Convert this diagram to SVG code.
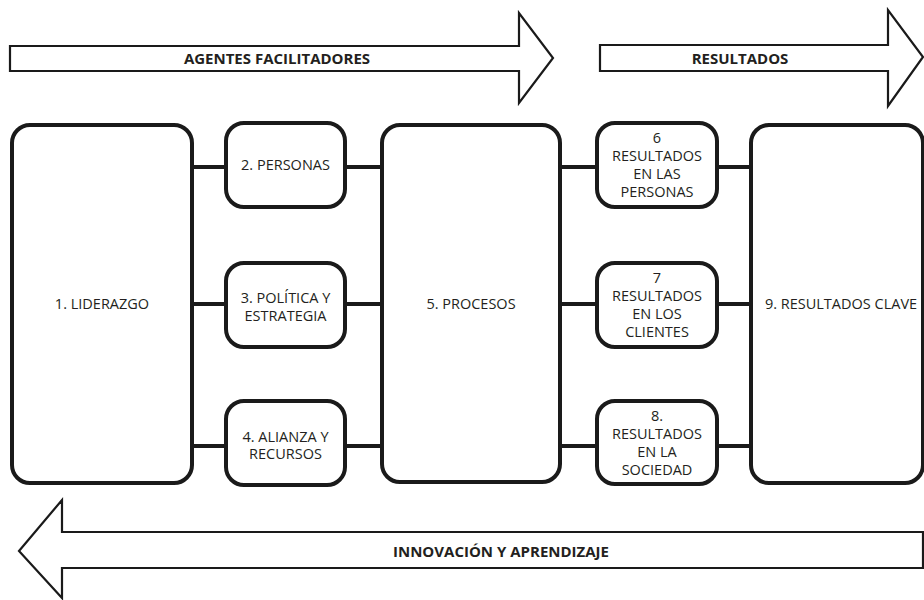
<svg xmlns="http://www.w3.org/2000/svg" width="924" height="600" viewBox="0 0 924 600">
<style>
.bg{fill:#fff}
.arrow{fill:#fff;stroke:#1a1a1a;stroke-width:2.2;stroke-linejoin:miter}
.box{fill:#fff;stroke:#1a1a1a;stroke-width:4}
.conn{stroke:#1a1a1a;stroke-width:4;fill:none}
.t{font-family:"Open Sans","Liberation Sans",sans-serif;font-size:14.5px;fill:#231f20;text-anchor:middle}
.b{font-family:"Open Sans","Liberation Sans",sans-serif;font-size:15px;font-weight:bold;fill:#231f20;text-anchor:middle}
</style>
<rect class="bg" x="0" y="0" width="924" height="600"/>
<g id="arrow-agentes">
<polygon class="arrow" points="10,46 519,46 519,13 553,58 519,103 519,71 10,71"/>
<text class="b" x="277" y="63.5">AGENTES FACILITADORES</text>
</g>
<g id="arrow-resultados">
<polygon class="arrow" points="600,45 888,45 888,10 923,57 888,106 888,71 600,71"/>
<text class="b" x="740" y="63.5">RESULTADOS</text>
</g>
<g id="arrow-innovacion">
<polygon class="arrow" points="923,532 62,532 62,500 19,551 62,598 62,568 923,568"/>
<text class="b" x="501" y="556.5">INNOVACIÓN Y APRENDIZAJE</text>
</g>
<g id="connectors">
<line class="conn" x1="192" y1="167" x2="226" y2="167"/>
<line class="conn" x1="192" y1="304" x2="226" y2="304"/>
<line class="conn" x1="192" y1="446" x2="226" y2="446"/>
<line class="conn" x1="345" y1="167" x2="382" y2="167"/>
<line class="conn" x1="345" y1="304" x2="382" y2="304"/>
<line class="conn" x1="345" y1="446" x2="382" y2="446"/>
<line class="conn" x1="560" y1="167" x2="597" y2="167"/>
<line class="conn" x1="560" y1="304" x2="597" y2="304"/>
<line class="conn" x1="560" y1="446" x2="597" y2="446"/>
<line class="conn" x1="717" y1="167" x2="751" y2="167"/>
<line class="conn" x1="717" y1="304" x2="751" y2="304"/>
<line class="conn" x1="717" y1="446" x2="751" y2="446"/>
</g>
<g id="n1">
<rect class="box" x="12" y="125" width="180" height="358" rx="18"/>
<text class="t" x="102" y="309">1. LIDERAZGO</text>
</g>
<g id="n2">
<rect class="box" x="226" y="123" width="119" height="84" rx="18"/>
<text class="t" x="285.5" y="170">2. PERSONAS</text>
</g>
<g id="n3">
<rect class="box" x="226" y="263" width="119" height="84" rx="18"/>
<text class="t" x="285.5" y="303">3. POLÍTICA Y</text>
<text class="t" x="285.5" y="320.5">ESTRATEGIA</text>
</g>
<g id="n4">
<rect class="box" x="226" y="401" width="119" height="84" rx="18"/>
<text class="t" x="285.5" y="441.5">4. ALIANZA Y</text>
<text class="t" x="285.5" y="459">RECURSOS</text>
</g>
<g id="n5">
<rect class="box" x="382" y="125" width="178" height="357" rx="18"/>
<text class="t" x="471" y="309">5. PROCESOS</text>
</g>
<g id="n6">
<rect class="box" x="597" y="123" width="120" height="84" rx="18"/>
<text class="t" x="657" y="142.5">6</text>
<text class="t" x="657" y="160.5">RESULTADOS</text>
<text class="t" x="657" y="178.5">EN LAS</text>
<text class="t" x="657" y="196.5">PERSONAS</text>
</g>
<g id="n7">
<rect class="box" x="597" y="263" width="120" height="84" rx="18"/>
<text class="t" x="657" y="282.5">7</text>
<text class="t" x="657" y="300.5">RESULTADOS</text>
<text class="t" x="657" y="318.5">EN LOS</text>
<text class="t" x="657" y="336.5">CLIENTES</text>
</g>
<g id="n8">
<rect class="box" x="597" y="401" width="120" height="83" rx="18"/>
<text class="t" x="657" y="420.5">8.</text>
<text class="t" x="657" y="438.5">RESULTADOS</text>
<text class="t" x="657" y="456.5">EN LA</text>
<text class="t" x="657" y="474.5">SOCIEDAD</text>
</g>
<g id="n9">
<rect class="box" x="751" y="125" width="172" height="358" rx="18"/>
<text class="t" x="841" y="309">9. RESULTADOS CLAVE</text>
</g>
</svg>
